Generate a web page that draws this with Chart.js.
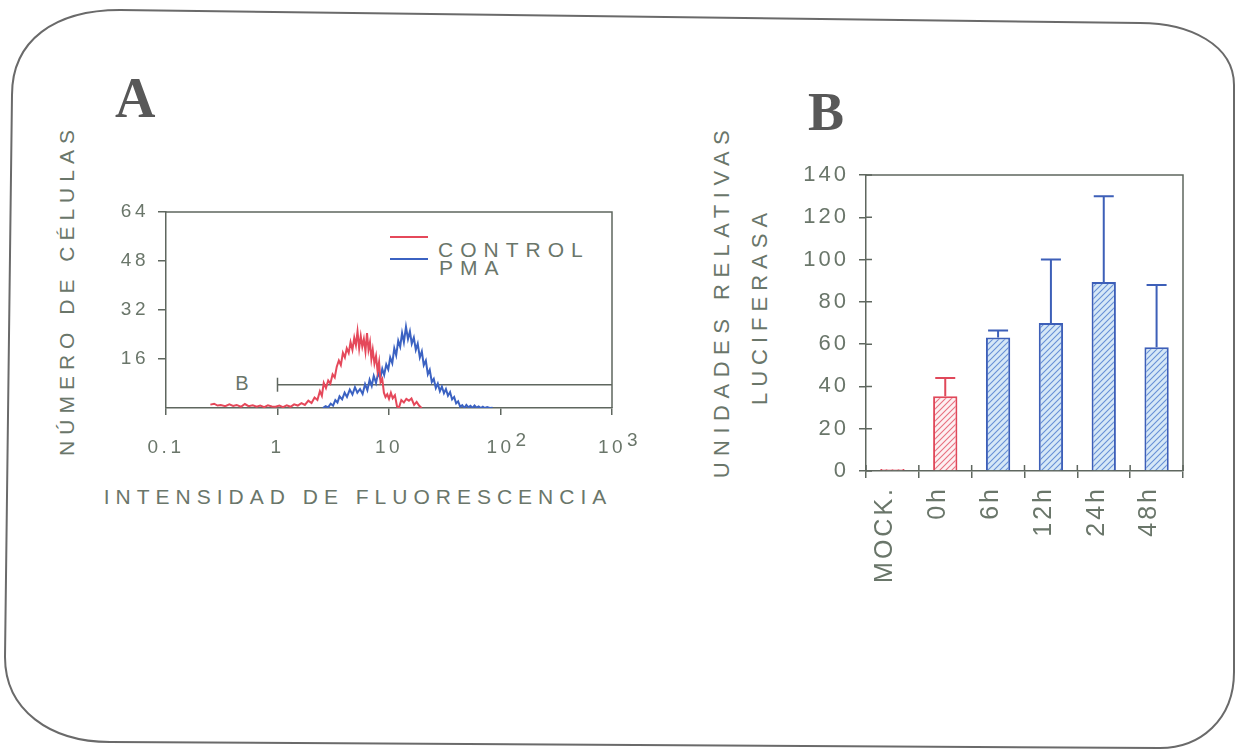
<!DOCTYPE html>
<html><head><meta charset="utf-8">
<script src="https://cdn.jsdelivr.net/npm/chart.js@4.4.1/dist/chart.umd.min.js"></script>
<style>
html,body{margin:0;padding:0;background:#fff;width:1235px;height:750px;overflow:hidden;font-family:"Liberation Sans",Arial,sans-serif;}
.abs{position:absolute;white-space:nowrap;color:#6a766a;line-height:1;}
.rot{transform:translate(-50%,-50%) rotate(-90deg);}
.ctr{transform:translate(-50%,-50%);}
.serif{font-family:"Liberation Serif","Times New Roman",serif;font-weight:bold;color:#585858;}
canvas{position:absolute;}
</style></head><body>
<svg width="1235" height="750" style="position:absolute;left:0;top:0">
  <path d="M 12 95 C 12 40, 55 10, 120 10 L 1140 23 C 1190 23, 1234 45, 1234 85 L 1234 672 C 1234 720, 1200 748, 1160 748 L 110 742 C 50 742, 5 710, 5 657 Z" fill="none" stroke="#6a6a6a" stroke-width="2"/>
</svg>
<div class="abs serif" style="left:115px;top:70px;font-size:56px;line-height:56px;">A</div>
<div class="abs serif" style="left:808px;top:85px;font-size:54px;line-height:54px;">B</div>
<div class="abs rot" style="left:66px;top:290px;font-size:21px;letter-spacing:6px;">NÚMERO DE CÉLULAS</div>
<div class="abs ctr" style="left:358px;top:496px;font-size:21px;letter-spacing:6px;">INTENSIDAD DE FLUORESCENCIA</div>
<div class="abs ctr" style="left:243px;top:383px;font-size:20px;letter-spacing:2px;">B</div>
<div style="position:absolute;left:390px;top:236px;width:38px;height:2px;background:#e5485a;"></div>
<div style="position:absolute;left:390px;top:258px;width:38px;height:2px;background:#3b62c2;"></div>
<div class="abs" style="left:438px;top:239px;font-size:21px;line-height:21px;letter-spacing:7px;">CONTROL</div>
<div class="abs" style="left:439px;top:257px;font-size:21px;line-height:21px;letter-spacing:7px;">PMA</div>
<div class="abs rot" style="left:722px;top:301px;font-size:22px;letter-spacing:6.5px;">UNIDADES RELATIVAS</div>
<div class="abs rot" style="left:760px;top:306px;font-size:22px;letter-spacing:6px;">LUCIFERASA</div>
<canvas id="cA" width="650" height="470" style="left:0;top:0"></canvas>
<canvas id="cB" width="440" height="620" style="left:780px;top:0"></canvas>
<script>
// ---------- Panel A: flow cytometry histogram ----------
const controlIntensity = [0.25,0.27,0.29,0.31,0.34,0.37,0.40,0.43,0.47,0.51,0.55,0.60,0.65,0.70,0.76,0.82,0.89,0.96,1.04,1.12,1.21,1.31,1.41,1.52,1.64,1.76,1.89,2.02,2.15,2.28,2.40,2.50,2.60,2.72,2.85,2.98,3.12,3.26,3.40,3.55,3.70,3.86,4.02,4.18,4.35,4.52,4.70,4.88,5.05,5.22,5.40,5.58,5.76,5.95,6.15,6.35,6.55,6.75,6.95,7.15,7.40,7.65,7.90,8.15,8.40,8.70,9.00,9.30,9.65,10.0,10.4,10.8,11.3,11.8,12.3,12.9,13.6,14.3,15.1,15.9,16.8,17.7,18.6,19.6];
const controlCount = [1.1,1.4,0.8,1.0,0.6,1.2,0.7,1.0,0.4,1.3,0.6,0.9,0.4,0.8,0.3,0.9,0.5,0.4,0.8,0.3,0.9,0.4,1.2,0.8,1.6,1.0,2.4,1.6,3.4,2.6,5.5,4.0,8.2,6.5,9.0,8.0,11.0,10.0,13.5,15.5,14.0,18.0,16.5,19.5,18.0,21.5,19.0,23.0,20.5,25.0,19.5,23.5,20.0,22.5,18.5,24.5,19.0,21.5,16.0,19.0,14.5,17.0,12.0,15.0,8.5,9.5,5.0,3.6,4.5,3.0,5.0,3.2,4.2,0.5,0.2,2.6,1.8,3.0,2.4,3.1,1.0,2.0,0.8,0.0];
const pmaIntensity = [2.55,2.70,2.85,3.00,3.15,3.30,3.45,3.60,3.80,4.00,4.20,4.45,4.70,4.95,5.20,5.50,5.80,6.10,6.40,6.70,7.00,7.30,7.65,8.00,8.35,8.70,9.05,9.45,9.85,10.25,10.7,11.15,11.6,12.1,12.6,13.1,13.6,14.2,14.8,15.4,16.0,16.7,17.4,18.1,18.9,19.7,20.5,21.4,22.3,23.2,24.2,25.2,26.3,27.4,28.6,29.8,31.1,32.4,33.8,35.3,36.8,38.4,40.0,41.7,43.5,45.4,47.4,49.4,51.6,53.8,56.1,58.5,61.0,63.7,66.5,69.4,72.4,76.0,80.0,85.0];
const pmaCount = [0.0,0.6,0.2,1.4,0.8,2.6,1.8,3.8,2.8,5.0,3.6,6.0,4.4,6.8,5.0,6.2,4.6,7.8,5.8,9.2,7.2,10.5,8.2,11.5,9.6,12.8,10.8,14.2,12.6,16.5,14.6,19.5,17.2,22.0,20.0,24.5,21.5,26.5,22.5,25.0,21.0,23.0,19.0,21.0,16.5,18.5,14.0,15.5,11.0,12.5,8.5,9.5,6.5,8.0,5.5,7.0,4.8,6.2,4.0,5.2,2.8,3.6,1.5,2.2,0.4,0.9,0.0,1.0,0.2,0.7,0.0,0.8,0.1,0.5,0.0,0.4,0.0,0.3,0.0,0.1];
const gateIntensity = [1, 1000];
const gateCount = [7.6, 7.6];
const countTicks = [16, 32, 48, 64];
const intensityTicks = [0.1, 1, 10, 100, 1000];
const intensityTickBase = ['0.1', '1', '10', '10', '10'];
const intensityTickExponent = ['', '', '', '2', '3'];

// ---------- Panel B: luciferase ----------
const timeLabels = ['MOCK.', '0h', '6h', '12h', '24h', '48h'];
const luciferaseMean = [1, 35.4, 63.2, 70, 89.4, 58.5];
const luciferaseErrTop = [null, 44, 66.5, 100, 130, 88];
const barGroup = ['ctrl', 'ctrl', 'pma', 'pma', 'pma', 'pma'];

const FONT = "'Liberation Sans', Arial, sans-serif";
const TEXT = '#6a766a';
const AXIS = '#5f675f';
const RED = '#e5485a';
const BLUE = '#3b62c2';

function spacing(px){
  const set = c => { c.ctx.letterSpacing = px + 'px'; };
  return {id:'spacing', beforeUpdate:set, beforeLayout:set, beforeDraw:set};
}
const framePlugin = {
  id:'frame',
  afterDraw(chart, args, opts){
    const {ctx, chartArea:a} = chart;
    ctx.save();
    ctx.strokeStyle = AXIS; ctx.lineWidth = 1.5;
    ctx.beginPath();
    ctx.moveTo(a.left, a.top); ctx.lineTo(a.right, a.top); ctx.lineTo(a.right, a.bottom);
    ctx.stroke();
    if (opts.inner) {
      const ys = chart.scales.y, xs = chart.scales.x;
      ctx.beginPath();
      ys.ticks.forEach(t => { const p = ys.getPixelForValue(t.value); ctx.moveTo(a.left, p); ctx.lineTo(a.left + 6, p); });
      for (let i = 0; i <= xs.ticks.length; i++) { const p = xs.getPixelForValue(i - 0.5); ctx.moveTo(p, a.bottom); ctx.lineTo(p, a.bottom - 6); }
      ctx.stroke();
    }
    ctx.restore();
  }
};

function hatch(bg, fg){
  const c = document.createElement('canvas'); c.width = 6; c.height = 6;
  const g = c.getContext('2d');
  g.fillStyle = bg; g.fillRect(0,0,6,6);
  g.strokeStyle = fg; g.lineWidth = 1.1;
  g.beginPath();
  g.moveTo(0,6); g.lineTo(6,0);
  g.moveTo(-1,1); g.lineTo(1,-1);
  g.moveTo(5,7); g.lineTo(7,5);
  g.stroke();
  return g.createPattern(c, 'repeat');
}

// two-line tick labels: exponent line raised above the base number
function intensityLabel(i){
  const e = intensityTickExponent[i];
  return [e ? '     ' + e : '', intensityTickBase[i]];
}

new Chart(document.getElementById('cA'), {
  type:'line',
  data:{datasets:[
    {label:'CONTROL', data: controlIntensity.map((x,i)=>({x, y: controlCount[i]})), borderColor:RED, borderWidth:2, pointRadius:0, tension:0},
    {label:'PMA', data: pmaIntensity.map((x,i)=>({x, y: pmaCount[i]})), borderColor:BLUE, borderWidth:2, pointRadius:0, tension:0},
    {label:'B', data: gateIntensity.map((x,i)=>({x, y: gateCount[i]})), borderColor:AXIS, borderWidth:1.5,
     pointStyle:'line', pointRotation:90, pointRadius:[7,0], pointBorderColor:AXIS, pointBorderWidth:1.5, clip:false}
  ]},
  options:{
    responsive:false, animation:false,
    layout:{padding:{top:212, right:38, left:0, bottom:0}},
    plugins:{legend:{display:false}, tooltip:{enabled:false}, frame:{inner:false}},
    scales:{
      x:{type:'logarithmic', min:0.1, max:1000,
        afterBuildTicks: s => { s.ticks = intensityTicks.map(v => ({value:v})); },
        ticks:{callback:(v,i)=>intensityLabel(i), color:TEXT, font:{family:FONT, size:19, lineHeight:0.38}, padding:22, maxRotation:0, autoSkip:false},
        grid:{drawOnChartArea:false, tickLength:7, color:AXIS, lineWidth:1.5},
        border:{color:AXIS, width:1.5},
        afterFit: s => { s.height = 62; s.paddingLeft = 0; s.paddingRight = 0; }
      },
      y:{min:0, max:64,
        afterBuildTicks: s => { s.ticks = countTicks.map(v => ({value:v})); },
        ticks:{color:TEXT, font:{family:FONT, size:19}, padding:9},
        grid:{drawOnChartArea:false, tickLength:8, color:AXIS, lineWidth:1.5},
        border:{color:AXIS, width:1.5},
        afterFit: s => { s.width = 166; s.paddingTop = 0; s.paddingBottom = 0; }
      }
    }
  },
  plugins:[spacing(3.5), framePlugin]
});

const fillFor = {ctrl: hatch('#fdf0f2', '#e8707f'), pma: hatch('#d6e8f7', '#6790d6')};
const borderFor = {ctrl: '#e0485a', pma: '#3d5fb8'};

const errorBars = {
  id:'errorBars',
  afterDatasetsDraw(chart){
    const meta = chart.getDatasetMeta(0), ys = chart.scales.y, ctx = chart.ctx;
    ctx.save(); ctx.lineWidth = 2;
    meta.data.forEach((bar, i) => {
      const top = luciferaseErrTop[i];
      if (top == null) return;
      const py = ys.getPixelForValue(top);
      ctx.strokeStyle = borderFor[barGroup[i]];
      ctx.beginPath();
      ctx.moveTo(bar.x, bar.y); ctx.lineTo(bar.x, py);
      ctx.moveTo(bar.x - 10, py); ctx.lineTo(bar.x + 10, py);
      ctx.stroke();
    });
    ctx.restore();
  }
};

new Chart(document.getElementById('cB'), {
  type:'bar',
  data:{labels: timeLabels, datasets:[{
    data: luciferaseMean,
    backgroundColor: barGroup.map(g => fillFor[g]),
    borderColor: barGroup.map(g => borderFor[g]),
    borderWidth: 2, barPercentage: 0.46, categoryPercentage: 1
  }]},
  options:{
    responsive:false, animation:false,
    layout:{padding:{top:175, right:37, left:0, bottom:0}},
    plugins:{legend:{display:false}, tooltip:{enabled:false}, frame:{inner:true}},
    scales:{
      x:{
        ticks:{color:TEXT, font:{family:FONT, size:25}, padding:8, minRotation:90, maxRotation:90, autoSkip:false, labelOffset:-7},
        grid:{drawOnChartArea:false, tickLength:7, color:AXIS, lineWidth:1.5, offset:true},
        border:{color:AXIS, width:1.5},
        afterFit: s => { s.height = 149; s.paddingLeft = 0; s.paddingRight = 0; }
      },
      y:{min:0, max:140,
        ticks:{stepSize:20, color:TEXT, font:{family:FONT, size:22}, padding:10},
        grid:{drawOnChartArea:false, tickLength:7, color:AXIS, lineWidth:1.5},
        border:{color:AXIS, width:1.5},
        afterFit: s => { s.width = 86; s.paddingTop = 0; s.paddingBottom = 0; }
      }
    }
  },
  plugins:[spacing(3), framePlugin, errorBars]
});
</script>
</body></html>
